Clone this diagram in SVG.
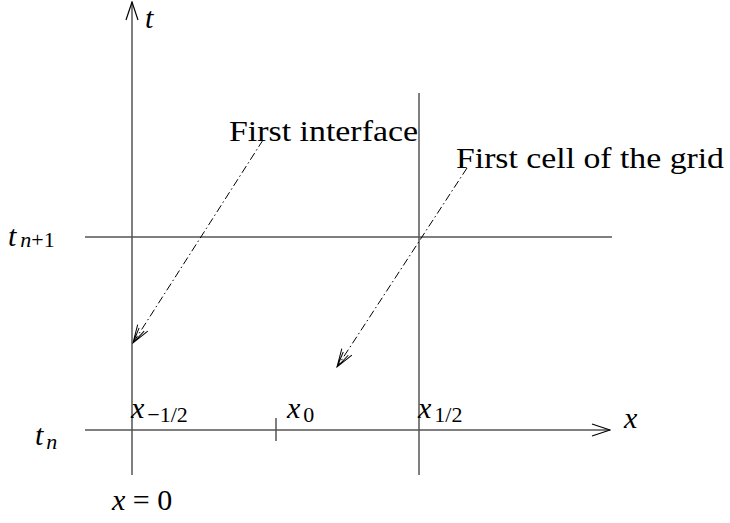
<svg xmlns="http://www.w3.org/2000/svg" width="730" height="523" viewBox="0 0 730 523">
<defs>
<marker id="open" viewBox="0 0 20 14" refX="19" refY="7" markerWidth="20" markerHeight="14" markerUnits="userSpaceOnUse" orient="auto">
<path d="M1,1 L19,7 L1,13" fill="none" stroke="#000" stroke-width="1.2"/>
</marker>
<marker id="dd" viewBox="0 0 20 14" refX="19" refY="7" markerWidth="20" markerHeight="14" markerUnits="userSpaceOnUse" orient="auto">
<path d="M1,1 L19,7 L1,13 M3,4 L19,7 M3,10 L19,7" fill="none" stroke="#000" stroke-width="1"/>
</marker>
</defs>
<style>
.ax{stroke:#555;stroke-width:1.5;fill:none}
.dd{stroke:#000;stroke-width:1;fill:none;stroke-dasharray:8 3 1.5 3}
text{font-family:"Liberation Serif","Times New Roman",serif;fill:#000}
.lbl{font-size:30px}
.m{font-size:30px;font-style:italic}
.s{font-size:22px;font-style:normal}
.n{font-size:22px;font-style:italic}
.eq{font-size:30px}
</style>
<g id="connectors">
<line class="ax" x1="132" y1="475" x2="132" y2="2" marker-end="url(#open)"/>
<line class="ax" x1="85" y1="430" x2="610" y2="430" marker-end="url(#open)"/>
<line class="ax" x1="85" y1="237" x2="612" y2="237"/>
<line class="ax" x1="419" y1="93" x2="419" y2="475"/>
<line class="ax" x1="276" y1="418" x2="276" y2="441"/>
<line class="dd" x1="263" y1="140" x2="133" y2="343" marker-end="url(#dd)"/>
<line class="dd" x1="467" y1="168" x2="337" y2="367" marker-end="url(#dd)"/>
</g>
<g id="labels">
<text class="m" x="145" y="28">t</text>
<text class="lbl" x="229" y="141" textLength="189" lengthAdjust="spacingAndGlyphs">First interface</text>
<text class="lbl" x="456" y="168" textLength="268" lengthAdjust="spacingAndGlyphs">First cell of the grid</text>
<text class="m" x="8" y="246">t<tspan class="n" dx="4" dy="1">n</tspan><tspan class="s">+1</tspan></text>
<text class="m" x="35" y="445">t<tspan class="n" dx="3" dy="4">n</tspan></text>
<text class="m" x="131" y="418">x<tspan class="s" dx="3" dy="4">−1/2</tspan></text>
<text class="m" x="287" y="418">x<tspan class="s" dx="3" dy="4">0</tspan></text>
<text class="m" x="418" y="418">x<tspan class="s" dx="3" dy="4">1/2</tspan></text>
<text class="m" x="624" y="428">x</text>
<text class="eq" x="112" y="510"><tspan font-style="italic">x</tspan> = 0</text>
</g>
</svg>
